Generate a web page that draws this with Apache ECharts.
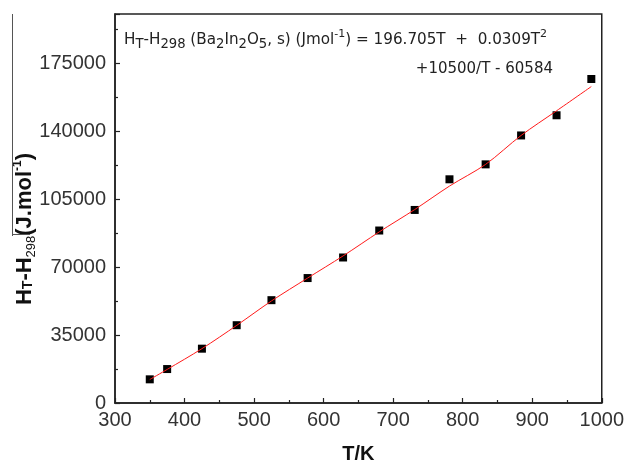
<!DOCTYPE html>
<html>
<head>
<meta charset="utf-8">
<script src="https://cdn.jsdelivr.net/npm/echarts@6/dist/echarts.min.js"></script>
<style>
  html, body { margin: 0; padding: 0; background: #ffffff; }
  #chart { width: 627px; height: 469px; }
</style>
</head>
<body>
<div id="chart"></div>
<script>
// Measured enthalpy increments H(T) - H(298) of Ba2In2O5
const tempK = [350, 375, 425, 475, 525, 577, 628, 680, 731, 781, 833, 884, 935, 985];
const enthalpy = [12200, 17500, 28000, 40100, 53000, 64400, 75000, 88900, 99500, 115300, 123000, 137900, 148300, 167000];

// Fitted curve
const fitT = [350, 375, 425, 475, 525, 577, 628, 680, 731, 781, 833, 884, 935, 985];
const fitH = [12100, 17300, 28000, 40000, 52600, 64400, 75800, 88200, 99700, 111800, 123000, 137900, 150600, 163100];

const xTicks = { min: 300, max: 1000, step: 100 };
const yTicks = { min: 0, max: 200500, step: 35000 };

const chart = echarts.init(document.getElementById('chart'), null, { renderer: 'canvas' });

const txt = '#222';
const font = 'Arial, "Liberation Sans", sans-serif';
const noteFont = '"DejaVu Sans", Arial, sans-serif';

chart.setOption({
  backgroundColor: '#ffffff',
  animation: false,
  grid: {
    left: 115, top: 14, right: 23, bottom: 62,
    show: true, borderColor: '#222', borderWidth: 1.5, backgroundColor: 'transparent'
  },
  xAxis: {
    type: 'value',
    min: xTicks.min, max: xTicks.max, interval: xTicks.step,
    name: 'T/K', nameLocation: 'middle', nameGap: 41,
    nameTextStyle: { fontFamily: font, fontWeight: 'bold', fontSize: 20, color: '#111' },
    axisLine: { show: true, lineStyle: { color: '#222', width: 1.5 } },
    axisTick: { show: true, inside: true, length: 5, lineStyle: { color: '#222', width: 1.2 } },
    minorTick: { show: true, splitNumber: 2, length: 3, lineStyle: { color: '#222', width: 1.2 } },
    axisLabel: { fontFamily: font, fontSize: 20, color: '#333', margin: 7, formatter: v => String(v) },
    splitLine: { show: false }
  },
  yAxis: {
    type: 'value',
    min: yTicks.min, max: yTicks.max, interval: yTicks.step,
    axisLine: { show: true, lineStyle: { color: '#222', width: 1.5 } },
    axisTick: { show: true, inside: true, length: 5, lineStyle: { color: '#222', width: 1.2 } },
    minorTick: { show: true, splitNumber: 2, length: 3, lineStyle: { color: '#222', width: 1.2 } },
    axisLabel: { fontFamily: font, fontSize: 20, color: '#333', margin: 9, showMaxLabel: false, formatter: v => String(v) },
    splitLine: { show: false }
  },
  series: [
    {
      type: 'scatter',
      data: tempK.map((t, i) => [t, enthalpy[i]]),
      symbol: 'rect', symbolSize: 8,
      itemStyle: { color: '#000000', opacity: 1 },
      z: 2
    },
    {
      type: 'line',
      data: fitT.map((t, i) => [t, fitH[i]]),
      showSymbol: false, smooth: 0.3,
      lineStyle: { color: '#ff1a1a', width: 1 },
      z: 3
    }
  ],
  graphic: [
    {
      type: 'text', left: 124, top: 29,
      style: {
        text: '{n|H}{sb|T}{n|-H}{sb|298}{n| (Ba}{sb|2}{n|In}{sb|2}{n|O}{sb|5}{n|, s) (Jmol}{sp|-1}{n|) = 196.705T  +  0.0309T}{sp|2}',
        fontFamily: noteFont, fill: txt,
        rich: {
          n: { fontFamily: noteFont, fontSize: 15.2, lineHeight: 22, verticalAlign: 'middle', fill: txt },
          sb: { fontFamily: noteFont, fontSize: 13.2, lineHeight: 10, verticalAlign: 'bottom', fill: txt },
          sp: { fontFamily: noteFont, fontSize: 11, lineHeight: 8, verticalAlign: 'top', fill: txt }
        }
      }
    },
    {
      type: 'text', right: 74, top: 62,
      style: {
        text: '+10500/T - 60584',
        fontFamily: noteFont, fontSize: 15, fill: txt
      }
    },
    {
      type: 'text', x: 25, y: 229, rotation: Math.PI / 2,
      style: {
        text: '{b|H}{t|T}{b|-H}{s|298}{b|(J.mol}{p|-1}{b|)}',
        align: 'center', verticalAlign: 'middle', fill: '#111',
        rich: {
          b: { fontFamily: font, fontWeight: 'bold', fontSize: 22, lineHeight: 26, verticalAlign: 'middle', fill: '#111' },
          t: { fontFamily: font, fontWeight: 'bold', fontSize: 14, lineHeight: 18, verticalAlign: 'middle', padding: [6, 0, 0, 0], fill: '#111' },
          s: { fontFamily: font, fontSize: 13, lineHeight: 10, verticalAlign: 'bottom', fill: '#111' },
          p: { fontFamily: font, fontWeight: 'bold', fontSize: 12, lineHeight: 8, verticalAlign: 'top', fill: '#111' }
        }
      }
    },
    {
      type: 'line', shape: { x1: 12.5, y1: 14, x2: 12.5, y2: 236 },
      style: { stroke: '#555', lineWidth: 1 }
    },
    {
      type: 'line', shape: { x1: 12, y1: 234.5, x2: 30, y2: 234.5 },
      style: { stroke: '#555', lineWidth: 1 }
    }
  ]
});
</script>
</body>
</html>
